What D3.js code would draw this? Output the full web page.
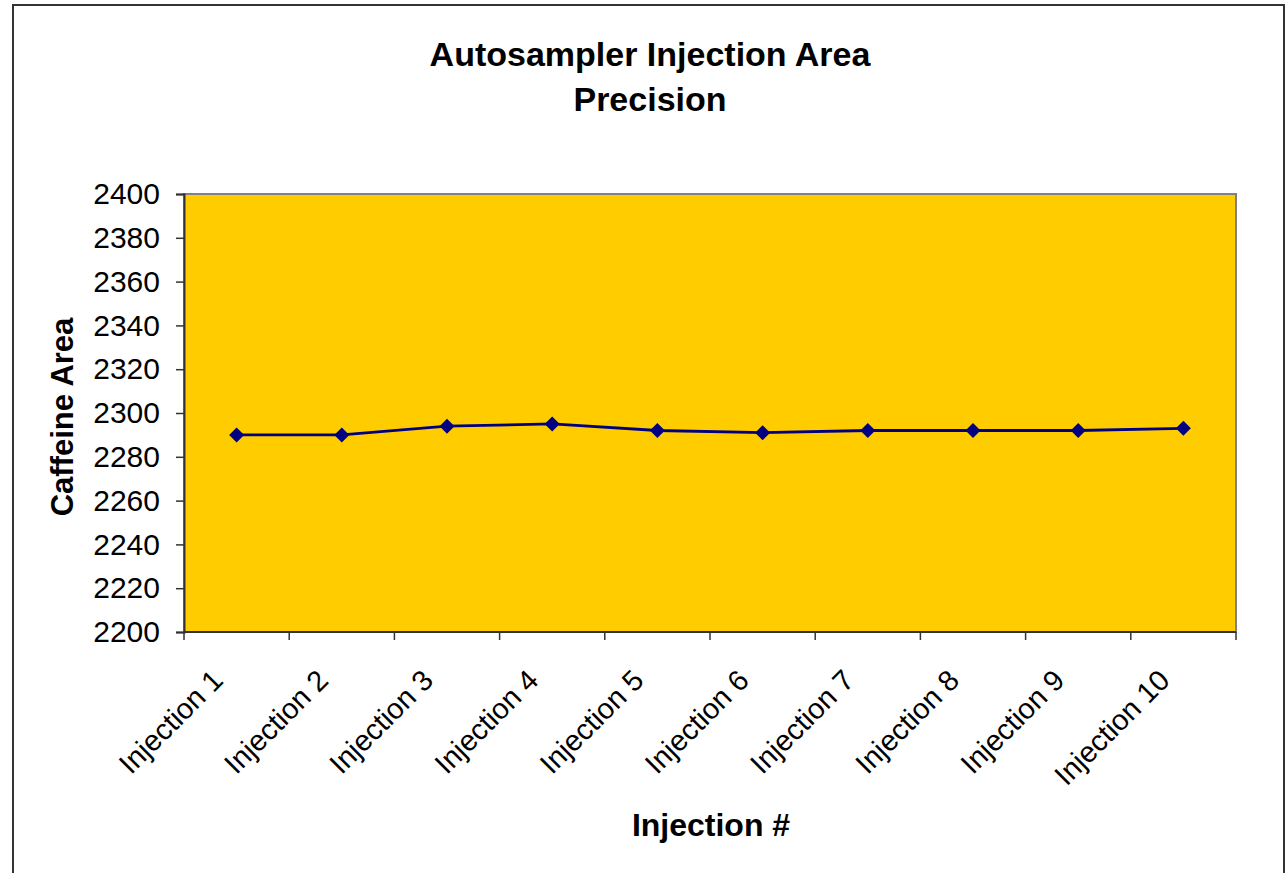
<!DOCTYPE html>
<html>
<head>
<meta charset="utf-8">
<script src="https://cdn.jsdelivr.net/npm/d3@7"></script>
<style>
  html, body { margin: 0; padding: 0; background: #fff; }
  svg { display: block; }
  text { font-family: Arial, "Liberation Sans", sans-serif; }
</style>
</head>
<body>
<svg id="chart" width="1288" height="873"></svg>
<script>
const categories = ["Injection 1","Injection 2","Injection 3","Injection 4","Injection 5","Injection 6","Injection 7","Injection 8","Injection 9","Injection 10"];
const areaValues = [2290, 2290, 2294, 2295, 2292, 2291, 2292, 2292, 2292, 2293];
const yTicks = [2200, 2220, 2240, 2260, 2280, 2300, 2320, 2340, 2360, 2380, 2400];
const titleLines = ["Autosampler Injection Area", "Precision"];
const xTitle = "Injection #";
const yTitle = "Caffeine Area";

const svg = d3.select("#chart");
const plot = { left: 184, right: 1236, top: 194, bottom: 632 };

// outer frame
svg.append("rect").attr("x", 13).attr("y", 5).attr("width", 1271).attr("height", 900)
  .attr("fill", "#fff").attr("stroke", "#333").attr("stroke-width", 2);

const x = d3.scaleBand().domain(categories).range([plot.left, plot.right]);
const y = d3.scaleLinear().domain([2200, 2400]).range([plot.bottom, plot.top]);

// plot area
svg.append("rect").attr("x", plot.left).attr("y", plot.top)
  .attr("width", plot.right - plot.left).attr("height", plot.bottom - plot.top)
  .attr("fill", "#FFCC00").attr("stroke", "#808080").attr("stroke-width", 2);

// y axis
const yAxis = d3.axisLeft(y).tickValues(yTicks).tickSize(8).tickPadding(16).tickFormat(d3.format("d"));
const gy = svg.append("g").attr("transform", `translate(${plot.left},0)`).call(yAxis);
gy.select(".domain").attr("stroke", "#333").attr("stroke-width", 2);
gy.selectAll(".tick line").attr("stroke", "#333").attr("stroke-width", 1.5);
gy.selectAll(".tick text").attr("font-size", 30).attr("fill", "#000")
  .style("font-family", "Arial, 'Liberation Sans', sans-serif");

// x axis: ticks at band boundaries
const boundaries = categories.map(c => x(c)).concat([plot.right]);
const gx = svg.append("g");
gx.append("line").attr("x1", plot.left).attr("x2", plot.right)
  .attr("y1", plot.bottom).attr("y2", plot.bottom).attr("stroke", "#333").attr("stroke-width", 2);
gx.selectAll("line.tk").data(boundaries).join("line").attr("class", "tk")
  .attr("x1", d => d).attr("x2", d => d).attr("y1", plot.bottom).attr("y2", plot.bottom + 8)
  .attr("stroke", "#333").attr("stroke-width", 1.5);
gx.selectAll("text.lbl").data(categories).join("text").attr("class", "lbl")
  .attr("transform", d => `translate(${x(d) + x.bandwidth() / 2 - 12},${plot.bottom + 50}) rotate(-45)`)
  .attr("text-anchor", "end").attr("font-size", 29).attr("fill", "#000")
  .text(d => d);

// line + markers
const line = d3.line().x((d, i) => x(categories[i]) + x.bandwidth() / 2).y(d => y(d));
svg.append("path").datum(areaValues).attr("d", line)
  .attr("fill", "none").attr("stroke", "#000080").attr("stroke-width", 2.8);
const diamond = "M0,-7.5L7.5,0L0,7.5L-7.5,0Z";
svg.selectAll("path.mk").data(areaValues).join("path").attr("class", "mk")
  .attr("d", diamond)
  .attr("transform", (d, i) => `translate(${x(categories[i]) + x.bandwidth() / 2},${y(d)})`)
  .attr("fill", "#000080");

// titles
svg.selectAll("text.title").data(titleLines).join("text").attr("class", "title")
  .attr("x", 650).attr("y", (d, i) => 66 + i * 45)
  .attr("text-anchor", "middle").attr("font-size", 34).attr("font-weight", "bold").text(d => d);

svg.append("text").attr("x", (plot.left + plot.right) / 2 + 1).attr("y", 836)
  .attr("text-anchor", "middle").attr("font-size", 32).attr("font-weight", "bold").text(xTitle);

svg.append("text").attr("transform", `translate(73,${(plot.top + plot.bottom) / 2 + 4}) rotate(-90)`)
  .attr("text-anchor", "middle").attr("font-size", 31).attr("font-weight", "bold").text(yTitle);
</script>
</body>
</html>
